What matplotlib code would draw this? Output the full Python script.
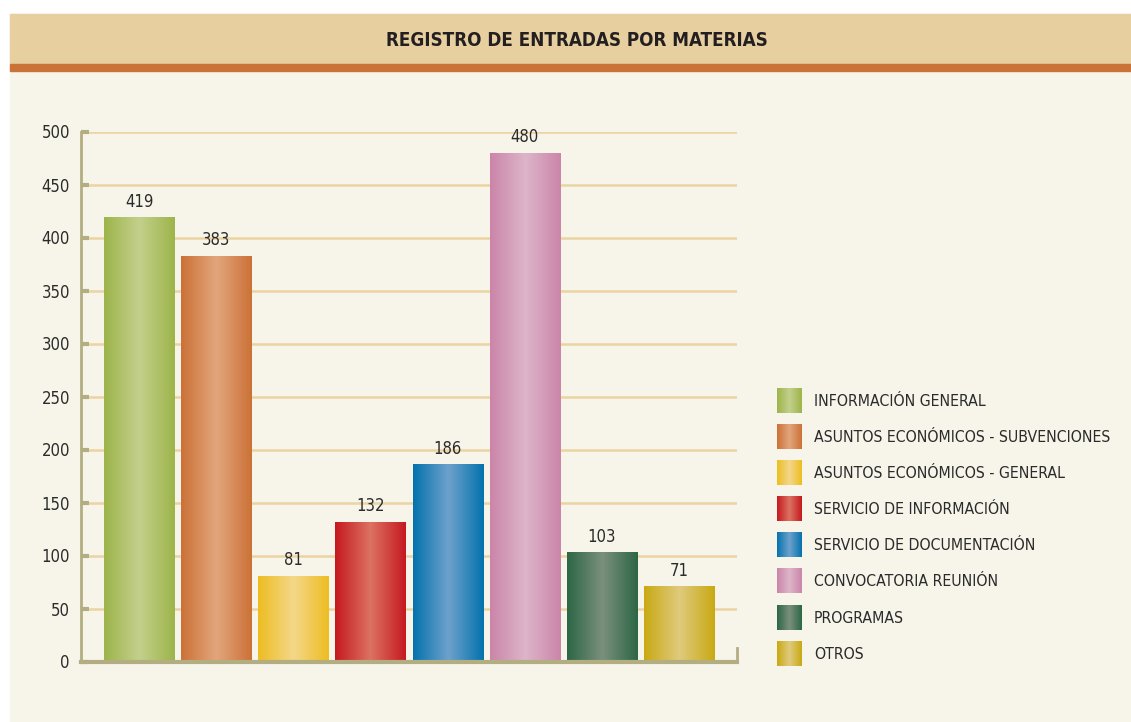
import numpy as np
import matplotlib
matplotlib.use("Agg")
import matplotlib.pyplot as plt
from matplotlib.colors import LinearSegmentedColormap
from matplotlib.patches import Rectangle

plt.rcParams['font.family'] = ['DejaVu Sans']
plt.rcParams['font.stretch'] = 'condensed'

# Data
categories = ["INFORMACIÓN GENERAL", "ASUNTOS ECONÓMICOS - SUBVENCIONES",
              "ASUNTOS ECONÓMICOS - GENERAL", "SERVICIO DE INFORMACIÓN",
              "SERVICIO DE DOCUMENTACIÓN", "CONVOCATORIA REUNIÓN",
              "PROGRAMAS", "OTROS"]
values = [419, 383, 81, 132, 186, 480, 103, 71]
yticks = [0, 50, 100, 150, 200, 250, 300, 350, 400, 450, 500]

# edge colour and centre colour of each bar's gradient
edge_colors = ["#9DB44A", "#CC7137", "#EDBD20", "#C51920",
               "#0472AD", "#CB85A9", "#2D6645", "#C9A912"]
center_colors = ["#C3D08C", "#E2A67C", "#F4D78B", "#DC7262",
                 "#6DA1CC", "#DDB5C9", "#7A907D", "#DFCA7D"]

title = "REGISTRO DE ENTRADAS POR MATERIAS"
text_color = "#2B2B2B"
cream = "#F7F5EA"
grid_color = "#EBD3A2"
axis_color = "#B3AE82"


def gradient_cmap(edge, center):
    return LinearSegmentedColormap.from_list("g", [edge, center, edge])


grad = np.linspace(0, 1, 256).reshape(1, -1)

W, H = 1131, 722
fig = plt.figure(figsize=(W / 100, H / 100), dpi=100, facecolor="white")

# panel background, header band and stripe
fig.patches.append(Rectangle((10 / W, 0), 1 - 10 / W, 1 - 14 / H,
                             transform=fig.transFigure, color=cream, zorder=-3))
fig.patches.append(Rectangle((10 / W, 1 - 64 / H), 1 - 10 / W, 50 / H,
                             transform=fig.transFigure, color="#E8CFA0", zorder=-2))
fig.patches.append(Rectangle((10 / W, 1 - 71 / H), 1 - 10 / W, 7 / H,
                             transform=fig.transFigure, color="#C97338", zorder=-2))
fig.text(577 / W, 1 - 40 / H, title, ha="center", va="center",
         fontsize=13.5, fontweight="bold", color="#231F20")

# main axes
ax = fig.add_axes([81 / W, 1 - 661.5 / H, 656 / W, 530 / H])
ax.set_facecolor("none")
x = np.arange(len(values))
bars = ax.bar(x, values, width=0.909, color="none", zorder=2)
for b, e, c, v in zip(bars, edge_colors, center_colors, values):
    x0, w = b.get_x(), b.get_width()
    im = ax.imshow(grad, cmap=gradient_cmap(e, c), aspect="auto",
                   extent=(x0, x0 + w, 0, b.get_height()), zorder=2)
    im.set_clip_path(b)
    ax.text(x0 + w / 2, v + 6, str(v), ha="center", va="bottom",
            fontsize=12, color=text_color)

ax.set_xlim(-0.753, len(values) - 1 + 0.753)
ax.set_ylim(0, 500)
ax.set_yticks(yticks)
ax.set_xticks([])
ax.yaxis.grid(True, color=grid_color, linewidth=1.8, zorder=0)
ax.set_axisbelow(True)
ax.tick_params(axis="y", direction="in", length=6, width=3, color=axis_color,
               labelsize=12, labelcolor=text_color, pad=8)
for s in ["top", "right"]:
    ax.spines[s].set_visible(False)
ax.spines["left"].set_color(axis_color)
ax.spines["left"].set_linewidth(2)
ax.spines["bottom"].set_color(axis_color)
ax.spines["bottom"].set_linewidth(3)
ax.plot([1, 1], [0, 0.025], transform=ax.transAxes, color=axis_color,
        linewidth=2, clip_on=False)

# legend with gradient swatches
lax = fig.add_axes([0, 0, 1, 1])
lax.axis("off")
for i, (name, e, c) in enumerate(zip(categories, edge_colors, center_colors)):
    yc = 400.5 + i * 36.1
    lax.imshow(grad, cmap=gradient_cmap(e, c), aspect="auto",
               extent=(777, 802, yc + 12.5, yc - 12.5))
    lax.text(814, yc + 1, name, ha="left", va="center", fontsize=11.3,
             color=text_color)
lax.set_xlim(0, W)
lax.set_ylim(H, 0)

fig.savefig("out.png", dpi=100, facecolor="white")
